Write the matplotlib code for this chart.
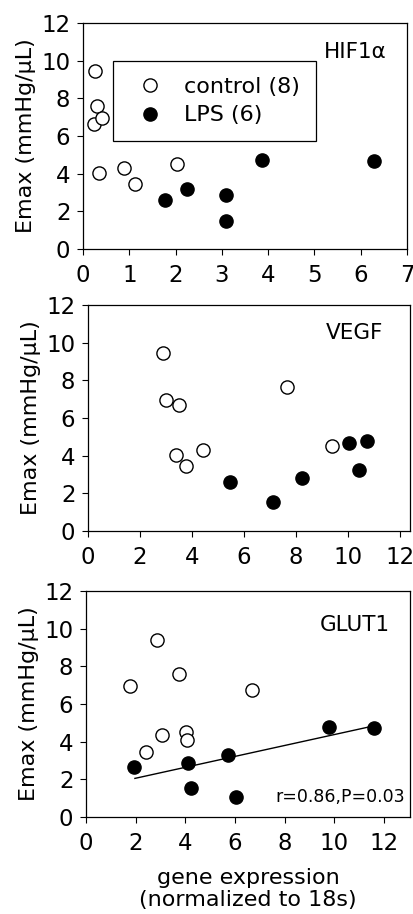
import matplotlib
matplotlib.use("Agg")
import matplotlib.pyplot as plt
from matplotlib.lines import Line2D

# ---- data ----
hif_ctrl_x = [0.27, 0.30, 0.23, 0.40, 0.35, 0.88, 1.12, 2.04]
hif_ctrl_y = [9.43, 7.61, 6.63, 6.98, 4.06, 4.31, 3.43, 4.50]
hif_lps_x = [1.78, 2.25, 3.10, 3.10, 3.87, 6.28]
hif_lps_y = [2.60, 3.20, 2.88, 1.50, 4.72, 4.66]

vegf_ctrl_x = [2.90, 3.00, 3.51, 3.38, 3.77, 4.44, 7.66, 9.40]
vegf_ctrl_y = [9.43, 6.97, 6.71, 4.05, 3.43, 4.32, 7.63, 4.50]
vegf_lps_x = [5.47, 7.14, 8.24, 10.06, 10.75, 10.42]
vegf_lps_y = [2.60, 1.52, 2.83, 4.69, 4.76, 3.24]

glut_ctrl_x = [2.84, 1.77, 3.74, 6.68, 4.02, 4.07, 3.07, 2.40]
glut_ctrl_y = [9.42, 6.96, 7.61, 6.72, 4.50, 4.07, 4.35, 3.44]
glut_lps_x = [1.94, 4.12, 5.70, 4.21, 6.03, 9.79, 11.61]
glut_lps_y = [2.65, 2.89, 3.28, 1.56, 1.05, 4.77, 4.70]
glut_fit_x = [1.97, 11.60]
glut_fit_y = [2.05, 4.84]

panel_titles = ["HIF1\u03b1", "VEGF", "GLUT1"]
legend_labels = ["control (8)", "LPS (6)"]
ylabel = "Emax (mmHg/\u03bcL)"
xlabel = "gene expression\n(normalized to 18s)"
stat_text = "r=0.86,P=0.03"

plt.rcParams['font.family'] = ['DejaVu Sans']

fig = plt.figure(figsize=(4.14, 9.14), dpi=100)
W, H = 414.0, 914.0

def make_ax(l, r, t, b):
    return fig.add_axes([l / W, 1 - b / H, (r - l) / W, (b - t) / H])

ax1 = make_ax(83, 407, 23, 249)
ax2 = make_ax(88, 410, 305, 531)
ax3 = make_ax(86, 410, 591, 817)

ms = 9.5
def scatter(ax, cx, cy, lx, ly):
    ax.plot(cx, cy, 'o', ms=ms, mfc='white', mec='black', mew=1.0, ls='none', zorder=3)
    ax.plot(lx, ly, 'o', ms=ms, mfc='black', mec='black', mew=1.0, ls='none', zorder=3)

scatter(ax1, hif_ctrl_x, hif_ctrl_y, hif_lps_x, hif_lps_y)
scatter(ax2, vegf_ctrl_x, vegf_ctrl_y, vegf_lps_x, vegf_lps_y)
scatter(ax3, glut_ctrl_x, glut_ctrl_y, glut_lps_x, glut_lps_y)
ax3.plot(glut_fit_x, glut_fit_y, color='black', lw=1.0, zorder=2)

ax1.set_xlim(0, 7)
ax1.set_xticks(range(0, 8))
ax2.set_xlim(0, 12.4)
ax2.set_xticks(range(0, 13, 2))
ax3.set_xlim(0, 13.05)
ax3.set_xticks(range(0, 13, 2))

title_pos = [(0.938, 0.872), (0.916, 0.876), (0.938, 0.85)]
for ax, title, (tx, ty) in zip([ax1, ax2, ax3], panel_titles, title_pos):
    ax.set_ylim(0, 12)
    ax.set_yticks(range(0, 13, 2))
    ax.tick_params(direction='out', length=4, width=0.8, labelsize=16.5,
                   top=False, right=False)
    ax.tick_params(axis='x', pad=7)
    ax.tick_params(axis='y', pad=5)
    for s in ax.spines.values():
        s.set_linewidth(0.9)
    ax.set_ylabel(ylabel, fontsize=16, labelpad=4)
    ax.text(tx, ty, title, transform=ax.transAxes, ha='right', va='center',
            fontsize=15.5)

ax3.set_xlabel(xlabel, fontsize=16, labelpad=9, linespacing=1.15)
ax3.text(0.985, 0.09, stat_text, transform=ax3.transAxes, ha='right', va='center',
         fontsize=12.5)

handles = [
    Line2D([], [], marker='o', ls='none', ms=ms, mfc='white', mec='black', mew=1.0),
    Line2D([], [], marker='o', ls='none', ms=ms, mfc='black', mec='black', mew=1.0),
]
leg = ax1.legend(handles, legend_labels, loc='upper left', bbox_to_anchor=(0.0926, 0.832),
                 borderaxespad=0, frameon=True, fancybox=False, edgecolor='black',
                 fontsize=16, borderpad=0.7, labelspacing=0.4, handlelength=1.9,
                 handletextpad=0.6, framealpha=1)
leg.get_frame().set_linewidth(0.9)

fig.savefig("out.png", dpi=100)
